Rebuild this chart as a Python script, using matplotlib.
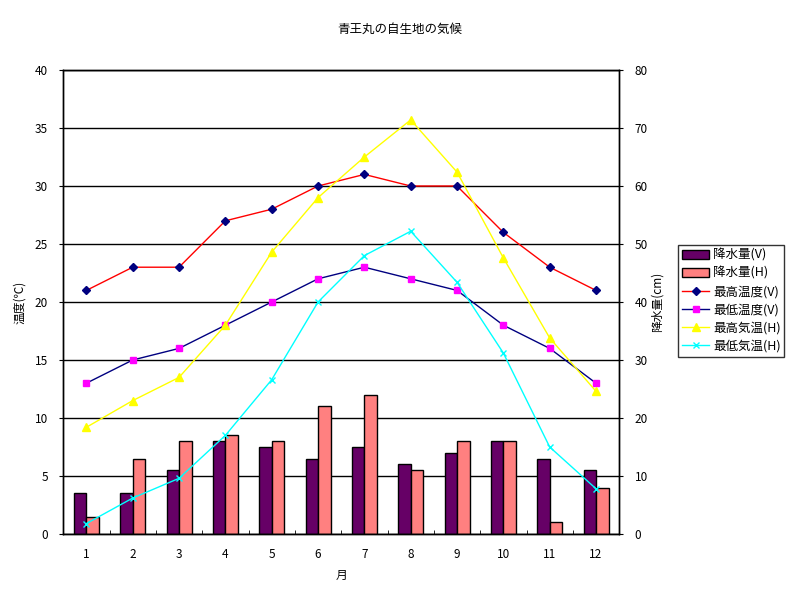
#!/usr/bin/env python3
"""Climate chart for the native habitat of 青王丸: temperature lines over precipitation bars."""

import matplotlib

matplotlib.use("Agg")
import matplotlib.pyplot as plt
import numpy as np

plt.rcParams["font.family"] = ["Noto Sans CJK JP", "DejaVu Sans"]

months = [1, 2, 3, 4, 5, 6, 7, 8, 9, 10, 11, 12]
rain_v = [7, 7, 11, 16, 15, 13, 15, 12, 14, 16, 13, 11]
rain_h = [3, 13, 16, 17, 16, 22, 24, 11, 16, 16, 2, 8]
tmax_v = [21, 23, 23, 27, 28, 30, 31, 30, 30, 26, 23, 21]
tmin_v = [13, 15, 16, 18, 20, 22, 23, 22, 21, 18, 16, 13]
tmax_h = [9.2, 11.5, 13.5, 18.0, 24.3, 29.0, 32.5, 35.7, 31.2, 23.8, 16.9, 12.3]
tmin_h = [0.9, 3.1, 4.8, 8.5, 13.3, 20.0, 24.0, 26.1, 21.7, 15.6, 7.5, 3.9]


def main():
    fig = plt.figure(figsize=(8, 6), dpi=100)
    ax = fig.add_axes([0.079, 0.11, 0.695, 0.7733])
    ax2 = ax.twinx()

    # bars live on the right-hand axis, drawn under the temperature lines
    ax.set_zorder(ax2.get_zorder() + 1)
    ax.patch.set_visible(False)
    ax2.set_facecolor("#c0c0c0")

    x = np.array(months)
    w = 0.27
    bv = ax2.bar(x - w / 2, rain_v, w, color="#660066", edgecolor="black",
                 linewidth=1, label="降水量(V)")
    bh = ax2.bar(x + w / 2, rain_h, w, color="#ff8080", edgecolor="black",
                 linewidth=1, label="降水量(H)")
    ax2.set_ylim(0, 80)
    ax2.set_yticks(range(0, 81, 10))
    ax2.set_axisbelow(True)
    ax2.yaxis.grid(True, color="black", linewidth=1)
    ax2.set_ylabel("降水量(cm)", fontsize=8.5, labelpad=2)

    l1, = ax.plot(x, tmax_v, color="#ff0000", linewidth=1, marker="D",
                  markersize=4.5, markerfacecolor="#000080",
                  markeredgecolor="#000080", label="最高温度(V)")
    l2, = ax.plot(x, tmin_v, color="#000080", linewidth=1, marker="s",
                  markersize=5, markerfacecolor="#ff00ff",
                  markeredgecolor="#ff00ff", label="最低温度(V)")
    l3, = ax.plot(x, tmax_h, color="#ffff00", linewidth=1, marker="^",
                  markersize=6, markerfacecolor="#ffff00",
                  markeredgecolor="#ffff00", label="最高気温(H)")
    l4, = ax.plot(x, tmin_h, color="#00ffff", linewidth=1, marker="x",
                  markersize=5, markeredgewidth=1, label="最低気温(H)")

    ax.set_xlim(0.5, 12.5)
    ax.set_ylim(0, 40)
    ax.set_yticks(range(0, 41, 5))
    ax.set_xticks(months)
    ax.set_xticks(np.arange(1.5, 12.5, 1), minor=True)
    ax.tick_params(axis="x", which="major", length=0, pad=10, labelsize=8.5)
    ax.tick_params(axis="x", which="minor", direction="in", length=3,
                   color="black")
    ax.tick_params(axis="y", length=3, labelsize=8.5, pad=8)
    ax2.tick_params(axis="y", length=3, labelsize=8.5, pad=8)
    ax.set_ylabel("温度(℃)", fontsize=8.5, labelpad=6)
    ax.set_xlabel("月", fontsize=8.5, labelpad=6)

    for a in (ax, ax2):
        for s in a.spines.values():
            s.set_color("black")
            s.set_linewidth(1)

    fig.text(0.5, 0.952, "青王丸の自生地の気候", ha="center", va="center",
             fontsize=9)

    leg = fig.legend([bv, bh, l1, l2, l3, l4],
                     [h.get_label() for h in (bv, bh, l1, l2, l3, l4)],
                     loc="upper left", bbox_to_anchor=(0.8475, 0.592),
                     fontsize=9, frameon=True, fancybox=False,
                     edgecolor="black", borderpad=0.3, labelspacing=0.42,
                     handlelength=2.2, handletextpad=0.3, borderaxespad=0)
    leg.get_frame().set_linewidth(1)

    fig.savefig("out.png", dpi=100)
    plt.close(fig)


if __name__ == "__main__":
    main()
